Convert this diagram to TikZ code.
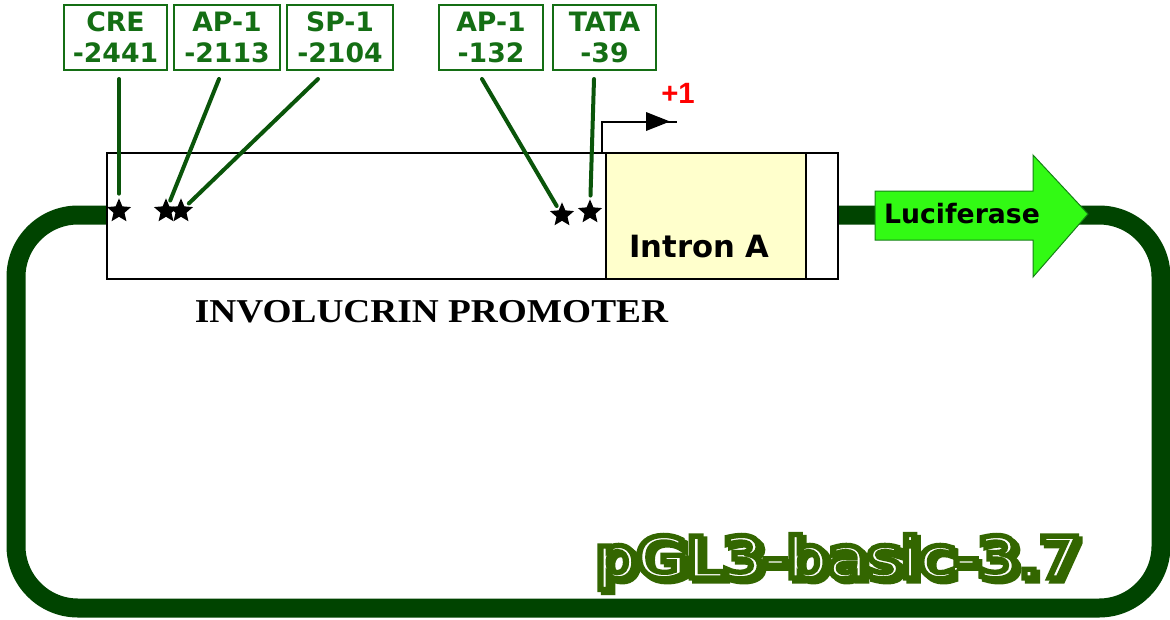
\documentclass[tikz,border=0pt]{standalone}
\usepackage{fontspec}
\usepackage{graphicx}
\setmainfont{DejaVu Sans}
\newfontfamily\libsans{Liberation Sans}
\newfontfamily\libserif{Liberation Serif}
\usetikzlibrary{shapes.geometric}
\definecolor{loopgreen}{RGB}{0,68,0}
\definecolor{labgreen}{RGB}{20,110,20}
\definecolor{linegreen}{RGB}{10,85,10}
\definecolor{intronfill}{RGB}{255,255,204}
\definecolor{lucfill}{RGB}{50,250,20}
\definecolor{lucdraw}{RGB}{20,130,20}
\definecolor{pglgreen}{RGB}{51,102,0}
\newcommand\pdfTr[2]{\special{pdf:literal direct #1 Tr #2 w}}
\newcommand\pgltext{pGL3-basic-3.7}
\newcommand\pglstyled{%
  \rlap{\hspace{2.25pt}\raisebox{-2.25pt}{\color{pglgreen}\pdfTr{2}{5.5}\pgltext\pdfTr{0}{1}}}%
  \rlap{\color{pglgreen}\pdfTr{2}{5.5}\pgltext\pdfTr{0}{1}}%
  \rlap{\color{white}\pgltext}%
  {\color{pglgreen}\pdfTr{1}{2.4}\pgltext\pdfTr{0}{1}}}
\begin{document}
\begin{tikzpicture}[x=0.75pt,y=-0.75pt,
  loopline/.style={draw=loopgreen, line width=14.25pt, rounded corners=46.5pt},
  labelbox/.style={draw=labgreen, line width=1.5pt, fill=white, minimum height=48.75pt,
    inner sep=0pt, align=center, text=labgreen,
    font=\fontsize{20}{23.25}\selectfont\bfseries},
  connector/.style={draw=linegreen, line width=3pt, line cap=round, shorten >=3pt},
  site/.style={star, star points=5, star point ratio=2.2, fill=black, inner sep=0pt, minimum size=19pt},
  blockbox/.style={draw=black, line width=1.2pt, inner sep=0pt, minimum height=94.5pt},
  pgl/.style={anchor=base, inner sep=0pt, font=\fontsize{41}{41}\selectfont}
]
\useasboundingbox (0,0) rectangle (1170,619);
\fill[white] (0,0) rectangle (1170,619);
% plasmid loop
\draw[loopline] (16,215) rectangle (1161,608);
% promoter block
\node[blockbox, fill=white, minimum width=548.25pt] (prom) at (472.5,216) {};
\node[blockbox, fill=intronfill, minimum width=150pt] (intron) at (706,216) {};
\node[anchor=base, inner sep=0pt, font=\fontsize{23}{23}\selectfont\bfseries] (introntext) at (699.5,257) {Intron A};
% sites
\node[site] (s1) at (119,211) {};
\node[site] (s2) at (166,211) {};
\node[site] (s3) at (181,211) {};
\node[site] (s4) at (562,215) {};
\node[site] (s5) at (590,212) {};
% labels
\node[labelbox, minimum width=77.25pt] (l1) at (115.5,37.5) {CRE\\-2441};
\node[labelbox, minimum width=79.5pt] (l2) at (227,37.5) {AP-1\\-2113};
\node[labelbox, minimum width=79.5pt] (l3) at (340,37.5) {SP-1\\-2104};
\node[labelbox, minimum width=78pt] (l4) at (491,37.5) {AP-1\\-132};
\node[labelbox, minimum width=77.25pt] (l5) at (604.5,37.5) {TATA\\-39};
\coordinate (c1) at (119,79);
\coordinate (c2) at (219,79);
\coordinate (c3) at (318,79);
\coordinate (c4) at (482,79);
\coordinate (c5) at (594,79);
\draw[connector] (c1) -- (s1);
\draw[connector] (c2) -- (s2);
\draw[connector] (c3) -- (s3);
\draw[connector] (c4) -- (s4);
\draw[connector] (c5) -- (s5);
% transcription start
\coordinate (tss) at (602,153);
\coordinate (tse) at (677,122);
\draw[line width=1.5pt] (tss) |- (tse);
\fill (646,112) -- (670,121.5) -- (646,131) -- cycle;
\node[anchor=base, inner sep=0pt, text=red, font=\libsans\fontsize{22}{22}\selectfont\bfseries] (plus1) at (678,103) {+1};
% luciferase
\draw[draw=lucdraw, fill=lucfill, line width=0.75pt] (875,191) -- (1033,191) -- (1033,155) -- (1088,214) -- (1033,277) -- (1033,240) -- (875,240) -- cycle;
\node[anchor=base, inner sep=0pt, font=\fontsize{20}{20}\selectfont\bfseries] (luc) at (962,223) {Luciferase};
% promoter label
\node[anchor=base, inner sep=0pt, font=\libserif\bfseries\fontsize{25}{25}\selectfont] (promlabel) at (431.5,322) {\scalebox{1.12}[1]{INVOLUCRIN PROMOTER}};
% plasmid name
\node[pgl] (pglname) at (838,577) {\scalebox{1.18}[1]{\pglstyled}};
\end{tikzpicture}
\end{document}
